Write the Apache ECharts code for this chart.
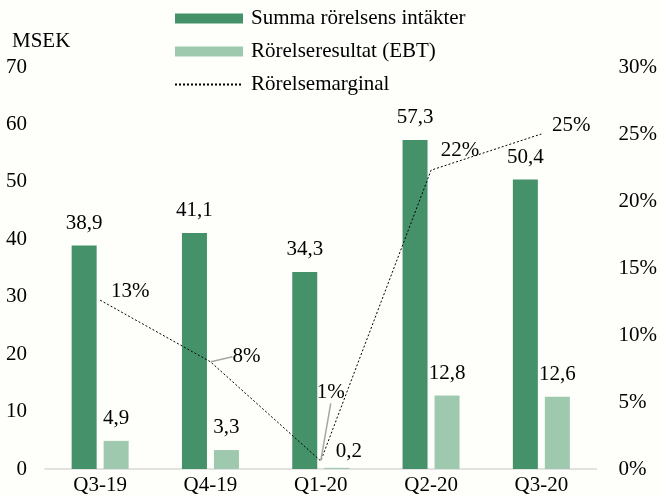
<!DOCTYPE html>
<html>
<head>
<meta charset="utf-8">
<script src="https://cdn.jsdelivr.net/npm/echarts@6/dist/echarts.min.js"></script>
<style>
  html, body { margin: 0; background: #fefefa; }
  #chart { width: 660px; height: 496px; }
</style>
</head>
<body>
<div id="chart"></div>
<script>
// data
const categories = ['Q3-19', 'Q4-19', 'Q1-20', 'Q2-20', 'Q3-20'];
const revenue = [38.9, 41.1, 34.3, 57.3, 50.4];   // Summa rörelsens intäkter, MSEK
const ebt = [4.9, 3.3, 0.2, 12.8, 12.6];          // Rörelseresultat (EBT), MSEK
const margin = [12.6, 8.0, 0.6, 22.3, 25.0];      // Rörelsemarginal, %
const leftMax = 70, leftStep = 10;
const rightMax = 30, rightStep = 5;

const font = 'Liberation Serif';
const fs = 21;
const comma = v => v.toFixed(1).replace('.', ',');

// where each margin label sits relative to its point
const marginLabelShift = [[30, -9], [36, -5], [10, -68], [29, -20], [30, -9]];

const chart = echarts.init(document.getElementById('chart'));
chart.setOption({
  backgroundColor: '#fefefa',
  textStyle: { fontFamily: font, color: '#000' },
  animation: false,
  legend: {
    orient: 'vertical',
    left: 169,
    top: 3,
    itemWidth: 68,
    itemHeight: 10,
    itemGap: 12,
    textStyle: { fontFamily: font, fontSize: fs, color: '#000', padding: [0, 0, 0, 3] },
    data: [
      { name: 'Summa rörelsens intäkter', icon: 'rect' },
      { name: 'Rörelseresultat (EBT)', icon: 'rect' },
      { name: 'Rörelsemarginal' }
    ]
  },
  graphic: [{
    type: 'text', left: 12, top: 31,
    style: { text: 'MSEK', font: fs + 'px ' + font, fill: '#000' }
  }],
  grid: { left: 45, right: 60, top: 67, bottom: 27 },
  xAxis: {
    type: 'category',
    data: categories,
    axisLine: { lineStyle: { color: '#d9d9d9', width: 1.5 } },
    axisTick: { show: false },
    axisLabel: { fontFamily: font, fontSize: fs, color: '#000', margin: 6 }
  },
  yAxis: [{
    type: 'value', min: 0, max: leftMax, interval: leftStep,
    splitLine: { show: false },
    axisLine: { show: false }, axisTick: { show: false },
    axisLabel: { fontFamily: font, fontSize: fs, color: '#000', align: 'right', margin: 18 }
  }, {
    type: 'value', min: 0, max: rightMax, interval: rightStep,
    splitLine: { show: false },
    axisLine: { show: false }, axisTick: { show: false },
    axisLabel: { fontFamily: font, fontSize: fs, color: '#000', align: 'left', margin: 22,
      formatter: v => v + '%' }
  }],
  series: [{
    name: 'Summa rörelsens intäkter',
    type: 'bar',
    data: revenue,
    barWidth: 25,
    barGap: '28%',
    itemStyle: { color: '#45926a' },
    label: { show: true, position: 'top', distance: 12, fontFamily: font, fontSize: fs, color: '#000',
      formatter: p => comma(p.value) }
  }, {
    name: 'Rörelseresultat (EBT)',
    type: 'bar',
    data: ebt,
    barWidth: 25,
    itemStyle: { color: '#9fc9ae' },
    label: { show: true, position: 'top', distance: 12, fontFamily: font, fontSize: fs, color: '#000',
      formatter: p => comma(p.value) },
    // the tiny Q1-20 label is nudged right, off the margin line
    labelLayout: p => (p.dataIndex === 2 ? { dx: 12, dy: 6 } : {})
  }, {
    name: 'Rörelsemarginal',
    type: 'line',
    yAxisIndex: 1,
    data: margin.map((v, i) => ({
      value: v,
      labelLine: { show: i === 1 || i === 2, lineStyle: { color: '#a6a6a6', width: 1.5 } }
    })),
    symbol: 'circle',
    symbolSize: 1,
    itemStyle: { color: 'rgba(0,0,0,0)' },
    lineStyle: { color: '#000', width: 1, type: [2, 2] },
    z: 5,
    label: { show: true, position: 'inside', fontFamily: font, fontSize: fs, color: '#000',
      formatter: p => Math.round(p.value) + '%' },
    labelLayout: p => ({ dx: marginLabelShift[p.dataIndex][0], dy: marginLabelShift[p.dataIndex][1] })
  }]
});
</script>
</body>
</html>
